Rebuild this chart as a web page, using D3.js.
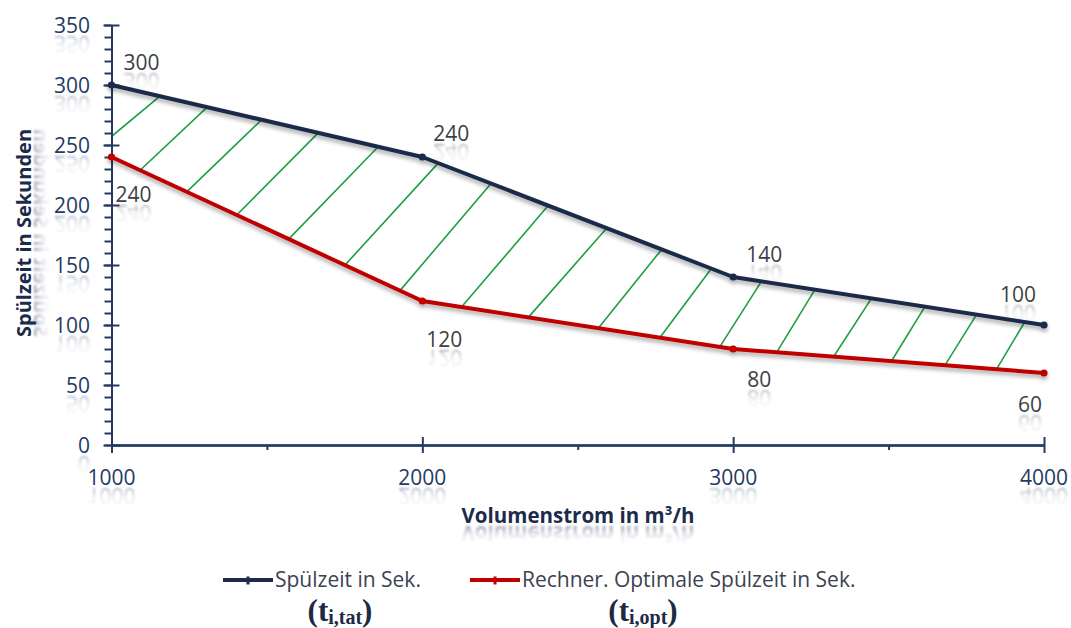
<!DOCTYPE html>
<html>
<head>
<meta charset="utf-8">
<script src="https://cdn.jsdelivr.net/npm/d3@7"></script>
<style>
  html, body { margin: 0; padding: 0; background: #ffffff; }
  svg { display: block; }
</style>
</head>
<body>
<svg id="chart" width="1071" height="628"></svg>
<script>
// ---------------- DATA ----------------
const volumes = [1000, 2000, 3000, 4000];               // Volumenstrom in m³/h
const spuelzeitTat = [300, 240, 140, 100];              // Spülzeit in Sek. (t_i,tat)
const spuelzeitOpt = [240, 120, 80, 60];                // Rechner. Optimale Spülzeit in Sek. (t_i,opt)
const yTickValues = [0, 50, 100, 150, 200, 250, 300, 350];
const yMinorTickValues = d3.range(0, 351, 10);
const xTickValues = [1000, 2000, 3000, 4000];
const xMinorTickValues = [1500, 2500, 3500];
// hatch lines: x on lower curve (t_i,opt) -> x on upper curve (t_i,tat)
const hatchLowX  = [949, 1092, 1242, 1403, 1570, 1751, 1928, 2126, 2341, 2566, 2764, 2957, 3140, 3323, 3509, 3681, 3847];
const hatchHighX = [1156, 1308, 1483, 1665, 1858, 2051, 2221, 2405, 2593, 2770, 2930, 3091, 3263, 3445, 3617, 3783, 3938];
const seriesNames = ["Spülzeit in Sek.", "Rechner. Optimale Spülzeit in Sek."];
const seriesSymbols = ["i,tat", "i,opt"];
const xTitle = "Volumenstrom in m³/h";
const yTitle = "Spülzeit in Sekunden";

// ---------------- LAYOUT ----------------
const svg = d3.select("#chart");
const navy = "#1b2b49";
const axisColor = "#243a63";
const labelGray = "#3d3f45";
const red = "#c00000";
const green = "#1e9e45";
const font = "'Open Sans', 'Liberation Sans', sans-serif";

const x = d3.scaleLinear().domain([1000, 4000]).range([111.5, 1044]);
const y = d3.scaleLinear().domain([0, 350]).range([445, 25]);

const defs = svg.append("defs");
function reflGrad(id, color) {
  const g = defs.append("linearGradient").attr("id", id)
    .attr("x1", 0).attr("y1", 0).attr("x2", 0).attr("y2", 1);
  g.append("stop").attr("offset", "0%").attr("stop-color", color).attr("stop-opacity", 0);
  g.append("stop").attr("offset", "45%").attr("stop-color", color).attr("stop-opacity", 0.1);
  g.append("stop").attr("offset", "100%").attr("stop-color", color).attr("stop-opacity", 0.6);
}
reflGrad("reflNavy", axisColor);
reflGrad("reflGray", labelGray);
reflGrad("reflTitle", navy);
defs.append("filter").attr("id", "soft").append("feGaussianBlur").attr("stdDeviation", 1);
const shadow = defs.append("filter").attr("id", "shadow")
  .attr("x", "-5%").attr("y", "-20%").attr("width", "110%").attr("height", "150%");
shadow.append("feDropShadow").attr("dx", 0).attr("dy", 3).attr("stdDeviation", 2.2)
  .attr("flood-color", "#000").attr("flood-opacity", 0.35);
defs.append("clipPath").attr("id", "plotClip").append("rect")
  .attr("x", x(1000)).attr("y", y(350)).attr("width", x(4000) - x(1000)).attr("height", y(0) - y(350));

// text with a soft mirrored reflection underneath (the reflection is a <use> clone)
let textId = 0;
function reflText(parent, tx, ty, str, o) {
  const id = "txt" + (textId++);
  const g = parent.append("g").attr("fill", o.color);
  g.append("text").attr("id", id)
    .attr("x", tx).attr("y", ty).attr("text-anchor", o.anchor || "middle")
    .attr("font-family", font).attr("font-size", o.size).attr("font-weight", o.weight || "normal")
    .text(str);
  parent.append("use").attr("href", "#" + id)
    .attr("transform", `translate(0,${2 * (ty + 1.5)}) scale(1,-1)`)
    .attr("fill", `url(#${o.refl})`).attr("filter", "url(#soft)");
  return g;
}

// ---------------- HATCH ----------------
const tatAt = d3.scaleLinear().domain(volumes).range(spuelzeitTat);
const optAt = d3.scaleLinear().domain(volumes).range(spuelzeitOpt);
const hatch = hatchLowX.map((lx, i) => ({ x1: lx, y1: optAt(lx), x2: hatchHighX[i], y2: tatAt(hatchHighX[i]) }));
svg.append("g").attr("clip-path", "url(#plotClip)")
  .selectAll("line").data(hatch).join("line")
  .attr("x1", d => x(d.x1)).attr("y1", d => y(d.y1))
  .attr("x2", d => x(d.x2)).attr("y2", d => y(d.y2))
  .attr("stroke", green).attr("stroke-width", 1.6).attr("stroke-linecap", "round");

// ---------------- AXES ----------------
function styleAxis(g) {
  g.select(".domain").attr("stroke", axisColor).attr("stroke-width", 2);
  g.selectAll(".tick line").attr("stroke", axisColor).attr("stroke-width", 2);
  g.selectAll(".tick text").remove();
}
// y axis
svg.append("g").attr("transform", `translate(${x(1000)},0)`)
  .call(d3.axisLeft(y).tickValues(yMinorTickValues).tickSize(7).tickSizeOuter(0)).call(styleAxis);
svg.append("g").attr("transform", `translate(${x(1000)},0)`)
  .call(d3.axisLeft(y).tickValues(yTickValues).tickSize(8).tickSizeOuter(0)).call(styleAxis);
svg.append("g").attr("transform", `translate(${x(1000)},0)`)
  .call(d3.axisRight(y).tickValues(yTickValues).tickSize(8).tickSizeOuter(0)).call(styleAxis);
// x axis
svg.append("g").attr("transform", `translate(0,${y(0)})`)
  .call(d3.axisBottom(x).tickValues(xMinorTickValues).tickSize(5).tickSizeOuter(0)).call(styleAxis);
svg.append("g").attr("transform", `translate(0,${y(0)})`)
  .call(d3.axisBottom(x).tickValues(xTickValues).tickSize(8).tickSizeOuter(0)).call(styleAxis);
svg.append("g").attr("transform", `translate(0,${y(0)})`)
  .call(d3.axisTop(x).tickValues(xTickValues).tickSize(8).tickSizeOuter(0)).call(styleAxis);

// tick labels
const tickLabels = svg.append("g");
yTickValues.forEach(v => reflText(tickLabels, 90, y(v) + 7.5, d3.format("d")(v),
  { anchor: "end", size: 21, color: axisColor, refl: "reflNavy" }));
xTickValues.forEach(v => reflText(tickLabels, x(v), 485, d3.format("d")(v),
  { size: 21, color: axisColor, refl: "reflNavy" }));

// axis titles
reflText(svg, 578, 523, xTitle, { size: 20.5, weight: "bold", color: navy, refl: "reflTitle" });
const yt = svg.append("g").attr("transform", "translate(31,233) rotate(-90)");
reflText(yt, 0, 0, yTitle, { size: 20, weight: "bold", color: navy, refl: "reflTitle" });

// ---------------- LINES ----------------
const line = d3.line().x(d => x(d[0])).y(d => y(d[1]));
const series = [
  { values: spuelzeitTat, color: navy },
  { values: spuelzeitOpt, color: red }
];
series.forEach(s => {
  const pts = volumes.map((v, i) => [v, s.values[i]]);
  const g = svg.append("g").attr("filter", "url(#shadow)");
  g.append("path").datum(pts).attr("d", line)
    .attr("fill", "none").attr("stroke", s.color).attr("stroke-width", 4)
    .attr("stroke-linejoin", "round").attr("stroke-linecap", "round");
  g.selectAll("circle").data(pts).join("circle")
    .attr("cx", d => x(d[0])).attr("cy", d => y(d[1])).attr("r", 3.6).attr("fill", s.color);
});

// data labels
const tatLabelOffsets = [[30, -15], [29, -16], [31, -15], [-26, -23]];
const optLabelOffsets = [[22, 45], [22, 46], [26, 38], [-14, 39]];
const dl = svg.append("g");
volumes.forEach((v, i) => {
  reflText(dl, x(v) + tatLabelOffsets[i][0], y(spuelzeitTat[i]) + tatLabelOffsets[i][1],
    String(spuelzeitTat[i]), { size: 21, color: labelGray, refl: "reflGray" });
  reflText(dl, x(v) + optLabelOffsets[i][0], y(spuelzeitOpt[i]) + optLabelOffsets[i][1],
    String(spuelzeitOpt[i]), { size: 21, color: labelGray, refl: "reflGray" });
});

// ---------------- LEGEND ----------------
const legendItems = [
  { x0: 223, color: navy, name: seriesNames[0], sym: seriesSymbols[0], symX: 340 },
  { x0: 470, color: red, name: seriesNames[1], sym: seriesSymbols[1], symX: 643 }
];
const lg = svg.append("g");
legendItems.forEach(it => {
  lg.append("line").attr("x1", it.x0).attr("x2", it.x0 + 50).attr("y1", 580).attr("y2", 580)
    .attr("stroke", it.color).attr("stroke-width", 4);
  lg.append("rect").attr("x", it.x0 + 23.5).attr("y", 576.5).attr("width", 3).attr("height", 8)
    .attr("fill", it.color);
  lg.append("text").attr("x", it.x0 + 52).attr("y", 587)
    .attr("font-family", font).attr("font-size", 21).attr("fill", "#3b4250")
    .text(it.name);
  const t = lg.append("text").attr("x", it.symX).attr("y", 621).attr("text-anchor", "middle")
    .attr("font-family", "'Liberation Serif', 'DejaVu Serif', serif").attr("font-weight", "bold")
    .attr("fill", "#1c2a44").attr("font-size", 31);
  t.append("tspan").text("(t");
  t.append("tspan").attr("font-size", 20).attr("dy", 3).text(it.sym);
  t.append("tspan").attr("dy", -3).text(")");
});
</script>
</body>
</html>
